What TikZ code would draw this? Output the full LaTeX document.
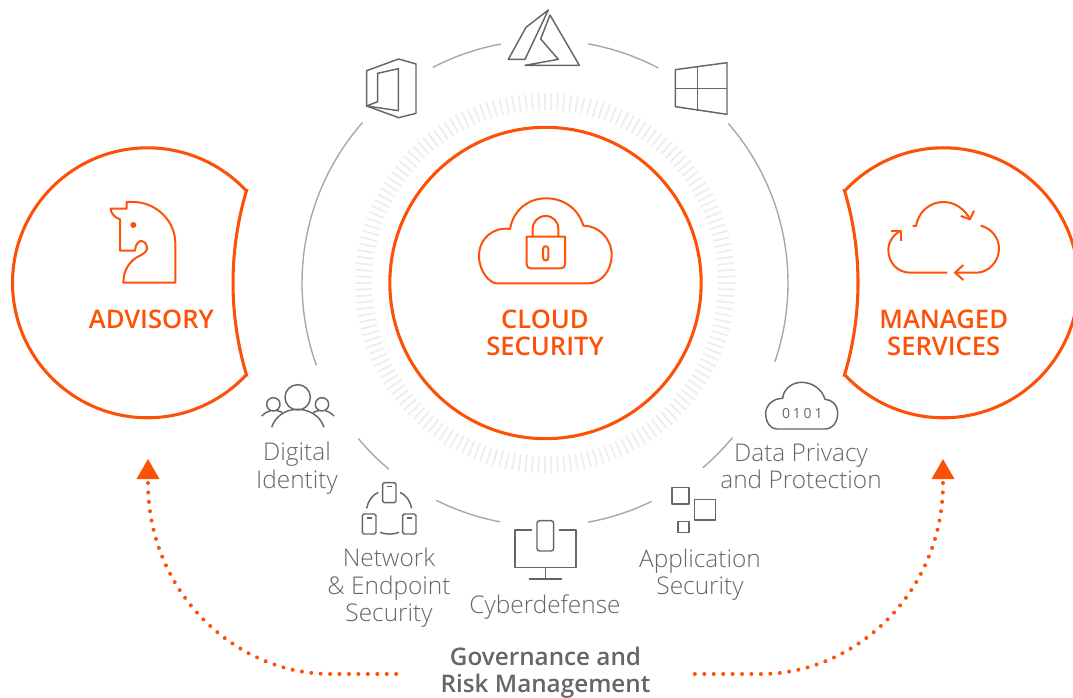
\documentclass[tikz,border=0pt]{standalone}
\usepackage{fontspec}
\setmainfont{Open Sans}
\newfontfamily\lblfont{Open Sans Light}
\newfontfamily\headfont{Open Sans Semibold}
\newfontfamily\bitfont[LetterSpace=20]{Open Sans}
\definecolor{brand}{HTML}{FD5108}
\definecolor{icongray}{HTML}{666666}
\definecolor{arcgray}{HTML}{A8A8A8}
\definecolor{tickgray}{HTML}{EDEDED}
\tikzset{
  brandline/.style={draw=brand,line width=2.3pt,line join=miter},
  iconbrand/.style={draw=brand,line width=1.5pt,line join=round},
  icon/.style={draw=icongray,line width=1.1pt,line join=round},
  grayarc/.style={draw=arcgray,line width=1.05pt},
  ticka/.style={draw=tickgray,line width=1.3pt},
  lbl/.style={text=icongray,align=center,font=\lblfont\fontsize{18.3}{20.6}\selectfont,inner sep=0pt},
  head/.style={text=brand,align=center,font=\headfont\fontsize{19.2}{20.2}\selectfont,inner sep=0pt},
  gov/.style={text=icongray,align=center,font=\headfont\fontsize{18.2}{20.4}\selectfont,inner sep=0pt},
  dots/.style={draw=brand,line width=3pt,line cap=round,dash pattern=on 0pt off 7.08pt},
  tri/.style={fill=brand,draw=none},
  zoomed/.style={x=0.25pt,y=-0.25pt}
}
\begin{document}
\begin{tikzpicture}[x=0.75pt,y=-0.75pt]
\path[use as bounding box] (0,0) rectangle (1073,698);
\clip (0,0) rectangle (1073,698);
% ticks
\foreach \t in {0,2,...,358}
  \draw[ticka] ({545+173*cos(\t)},{283+173*sin(\t)}) -- ({545+190*cos(\t)},{283+190*sin(\t)});
% gray ring segments
\foreach \a/\b in {242.5/259.5,280.2/297.8,319/378.9,160.2/221.3,130/140.2,100.7/116.6,64/79.8,39.5/49.5}
  \draw[grayarc] plot[domain=\a:\b,samples=40] ({545+243*cos(\x)},{283+243*sin(\x)});
% main shapes
\node[circle,draw=brand,line width=2.3pt,minimum size=233.5pt,inner sep=0pt] (core) at (545.5,283) {};
\draw[brandline] plot[domain=-42.9:-317.1,samples=120] ({147.5+135*cos(\x)},{282.8+135*sin(\x)})
  -- plot[domain=163.41:196.59,samples=30] ({554.9+321.9*cos(\x)},{282.8+321.9*sin(\x)}) -- cycle;
\draw[brandline] plot[domain=222.9:497.1,samples=120] ({943.5+135*cos(\x)},{282.8+135*sin(\x)})
  -- plot[domain=16.59:-16.59,samples=30] ({536.1+321.9*cos(\x)},{282.8+321.9*sin(\x)}) -- cycle;
% labels
\node[head] (advisory) at (151.3,319) {ADVISORY};
\node[head] (cloudsec) at (545,333) {CLOUD\\SECURITY};
\node[head] (managed) at (943.7,333) {MANAGED\\SERVICES};
\node[lbl] (identity) at (297,468) {Digital\\Identity};
\node[lbl] (network) at (389,588) {Network\\\& Endpoint\\Security};
\node[lbl] (cyber) at (545,607) {Cyberdefense};
\node[lbl] (appsec) at (700,574.5) {Application\\Security};
\node[lbl] (privacy) at (801,466.5) {Data Privacy\\and Protection};
\node[gov] (governance) at (545.5,673) {Governance and\\Risk Management};
% dotted arrows
\coordinate (govL) at (403,674);
\coordinate (govR) at (688,674);
\coordinate (tipL) at (148,483);
\coordinate (tipR) at (943,483);
\draw[dots] (tipL) .. controls (148,592) and (235,674) .. (330,674) -- (govL);
\draw[dots] (tipR) .. controls (943,592) and (856,674) .. (761,674) -- (govR);
\fill[tri] (148,459) -- (159.5,479) -- (136.5,479) -- cycle;
\fill[tri] (943,459) -- (954.5,479) -- (931.5,479) -- cycle;
% top icons
\begin{scope}[shift={(340,0)},zoomed]
  \draw[icon] (80,212) -- (176,177) -- (228,192) -- (228,340) -- (176,353) -- (80,318) -- cycle;
  \draw[icon] (80,318) -- (113,305) -- (113,220) -- (175,206) -- (175,332) -- cycle;
  \draw[icon] (625,30) -- (558,82) -- (505,178) -- (555,178) -- cycle;
  \draw[icon] (555,196) -- (655,178) -- (602,117) -- (630,45) -- (718,196) -- cycle;
  \draw[icon] (1006,209) -- (1161,188) -- (1161,343) -- (1006,320) -- cycle;
  \draw[icon] (1073,200) -- (1073,332);
  \draw[icon] (1006,265) -- (1161,265);
\end{scope}
% knight
\begin{scope}[shift={(80,180)},zoomed]
  \draw[iconbrand] (130,308) -- (286,308) -- (286,190) .. controls (286,120) and (225,66) .. (160,66)
    -- (140,66) -- (140,86) -- (92,86) .. controls (92,100) and (105,113) .. (120,118) -- (120,212) -- (165,212)
    .. controls (165,192) and (178,183) .. (183,183) .. controls (195,183) and (201,195) .. (201,204)
    .. controls (201,215) and (192,220) .. (180,227) .. controls (150,240) and (130,270) .. (130,308) -- cycle;
  \fill[brand] (160,135) circle[radius=9];
\end{scope}
% cloud with lock
\begin{scope}[shift={(460,180)},zoomed]
  \draw[iconbrand] (110,310) -- (385,310) .. controls (425,310) and (455,270) .. (455,225)
    .. controls (455,175) and (415,137) .. (370,137) .. controls (355,85) and (310,55) .. (258,55)
    .. controls (205,55) and (160,90) .. (150,147) .. controls (100,140) and (57,175) .. (57,228)
    .. controls (57,275) and (90,310) .. (110,310) -- cycle;
  \draw[iconbrand] (200,170) -- (315,170) -- (315,253) .. controls (315,260) and (310,265) .. (303,265)
    -- (212,265) .. controls (205,265) and (200,260) .. (200,253) -- cycle;
  \draw[iconbrand] (218,170) -- (218,147) .. controls (218,125) and (235,108) .. (257,108)
    .. controls (279,108) and (295,125) .. (295,147) -- (295,170);
  \draw[iconbrand] (249,207) .. controls (249,196) and (265,196) .. (265,207) -- (265,233)
    .. controls (265,244) and (249,244) .. (249,233) -- cycle;
\end{scope}
% cycling cloud
\begin{scope}[shift={(870,180)},zoomed]
  \draw[iconbrand] (232,278) -- (120,278) .. controls (80,278) and (55,245) .. (55,210) .. controls (55,185) and (70,165) .. (92,152);
  \draw[iconbrand] (62,152) -- (92,152) -- (92,183);
  \draw[iconbrand] (128,138) -- (138,138) .. controls (145,95) and (180,66) .. (220,66) .. controls (255,66) and (285,88) .. (300,118);
  \draw[iconbrand] (312,92) -- (300,118) -- (272,108);
  \draw[iconbrand] (332,137) .. controls (365,145) and (387,175) .. (387,205) .. controls (387,245) and (355,278) .. (320,278) -- (255,278);
  \draw[iconbrand] (280,255) -- (255,278) -- (280,300);
\end{scope}
% identity and network
\begin{scope}[shift={(250,370)},zoomed]
  \draw[icon] (143,82) circle[radius=38];
  \draw[icon] (70,103) circle[radius=20];
  \draw[icon] (216,103) circle[radius=20];
  \draw[icon] (65,172) .. controls (75,140) and (105,118) .. (143,118) .. controls (180,118) and (212,140) .. (222,172);
  \draw[icon] (35,138) .. controls (42,130) and (52,124) .. (62,122);
  \draw[icon] (80,122) .. controls (87,123) and (92,125) .. (97,127);
  \draw[icon] (190,127) .. controls (195,125) and (200,123) .. (206,122);
  \draw[icon] (226,122) .. controls (236,124) and (245,130) .. (252,138);
  \draw[icon,rounded corners=1.2pt] (398,338) rectangle (438,398);
  \draw[icon] (410,350) -- (425,350);
  \draw[icon,rounded corners=1.2pt] (337,432) rectangle (378,492);
  \draw[icon] (350,444) -- (365,444);
  \draw[icon,rounded corners=1.2pt] (458,432) rectangle (498,492);
  \draw[icon] (470,444) -- (485,444);
  \draw[icon] (350,415) .. controls (354,393) and (367,375) .. (385,367);
  \draw[icon] (450,367) .. controls (468,375) and (481,393) .. (485,415);
  \draw[icon] (390,487) .. controls (408,494) and (429,494) .. (447,487);
\end{scope}
% cyberdefense, application security, data cloud
\begin{scope}[shift={(500,370)},zoomed]
  \draw[icon] (95,480) -- (45,480) -- (45,592) -- (228,592) -- (228,480) -- (177,480);
  \draw[icon,rounded corners=2pt] (111,452) rectangle (161,543);
  \draw[icon] (136,592) -- (136,627);
  \draw[icon] (87,627) -- (186,627);
  \draw[icon] (516,352) rectangle (567,402);
  \draw[icon] (584,389) rectangle (646,450);
  \draw[icon] (534,455) rectangle (567,487);
  \draw[icon] (830,177) -- (975,177) .. controls (998,177) and (1013,155) .. (1013,130)
    .. controls (1013,105) and (995,88) .. (975,88) .. controls (965,55) and (935,37) .. (905,37)
    .. controls (875,37) and (850,58) .. (848,85) .. controls (820,85) and (797,105) .. (797,130)
    .. controls (797,155) and (810,177) .. (830,177) -- cycle;
  \node[text=icongray,font=\bitfont\fontsize{10.5}{12}\selectfont,inner sep=0pt] (bits) at (907,131) {0101};
\end{scope}
\end{tikzpicture}
\end{document}
